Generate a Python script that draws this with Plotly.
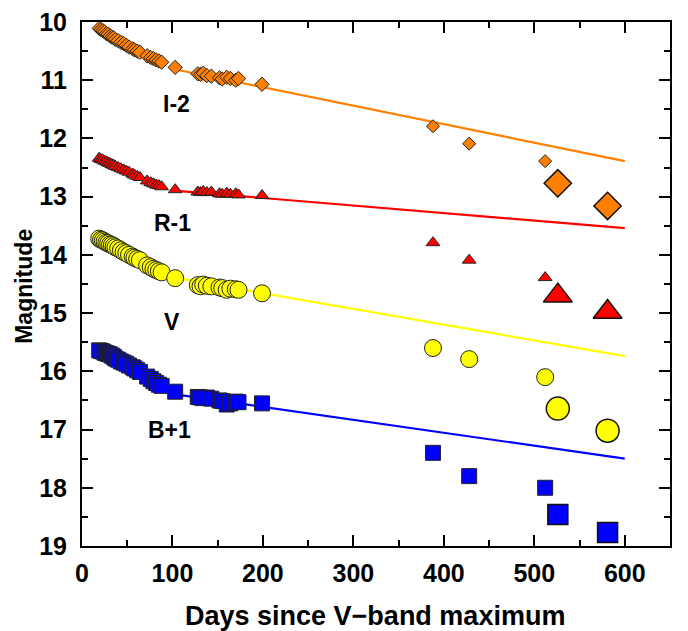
import plotly.graph_objects as go

# ---- data ----
days_early = [19, 21, 23, 25, 27, 29, 31, 33, 35, 37, 40, 43, 46, 49, 52, 56, 58, 61, 64,
              72, 76, 79, 82, 85, 88, 103, 128, 131, 134, 138, 143, 152, 155, 160, 164, 170, 173, 199]
I_early = [10.11, 10.13, 10.15, 10.17, 10.20, 10.21, 10.24, 10.26, 10.27, 10.30, 10.32, 10.35, 10.37,
           10.40, 10.43, 10.46, 10.48, 10.50, 10.52, 10.58, 10.61, 10.63, 10.65, 10.67, 10.69, 10.78,
           10.89, 10.90, 10.88, 10.92, 10.93, 10.96, 10.98, 10.95, 10.97, 11.00, 10.97, 11.07]
R_early = [12.34, 12.36, 12.37, 12.39, 12.40, 12.42, 12.43, 12.45, 12.46, 12.48, 12.50, 12.52, 12.54,
           12.56, 12.58, 12.61, 12.63, 12.65, 12.67, 12.73, 12.76, 12.78, 12.80, 12.81, 12.83, 12.88,
           12.92, 12.93, 12.91, 12.93, 12.92, 12.95, 12.96, 12.94, 12.96, 12.95, 12.97, 12.98]
V_early = [13.72, 13.74, 13.75, 13.77, 13.79, 13.80, 13.82, 13.83, 13.85, 13.87, 13.89, 13.92, 13.95,
           13.97, 14.00, 14.03, 14.05, 14.07, 14.09, 14.18, 14.21, 14.24, 14.26, 14.28, 14.30, 14.40,
           14.52, 14.54, 14.51, 14.53, 14.54, 14.56, 14.57, 14.60, 14.58, 14.59, 14.60, 14.66]
B_early = [15.64, 15.65, 15.66, 15.68, 15.69, 15.70, 15.71, 15.73, 15.75, 15.78, 15.80, 15.83, 15.85,
           15.87, 15.90, 15.93, 15.95, 15.98, 16.01, 16.09, 16.13, 16.17, 16.20, 16.23, 16.25, 16.35,
           16.44, 16.45, 16.46, 16.45, 16.47, 16.50, 16.51, 16.57, 16.55, 16.52, 16.53, 16.55]

days_late = [388, 428, 512]
I_late = [11.79, 12.09, 12.39]
R_late = [13.79, 14.09, 14.39]
V_late = [15.60, 15.79, 16.10]
B_late = [17.40, 17.80, 18.00]

days_neb = [526, 581]
I_neb = [12.77, 13.16]
R_neb = [14.70, 14.98]
V_neb = [16.64, 17.02]
B_neb = [18.46, 18.77]

fit_days = [105, 600]
I_fit = [10.82, 12.39]
R_fit = [12.90, 13.54]
V_fit = [14.40, 15.74]
B_fit = [16.40, 17.50]

band_labels = ["I-2", "R-1", "V", "B+1"]
label_days = [104, 100, 100, 97]
label_mags = [11.41, 13.45, 15.15, 17.0]

x_ticks = [0, 100, 200, 300, 400, 500, 600]
y_ticks = [10, 11, 12, 13, 14, 15, 16, 17, 18, 19]

# ---- styles ----
FONT = "Liberation Sans, Arial, sans-serif"
bands = [
    ("I", I_early, I_late, I_neb, I_fit, "#FF8000", "diamond", 11, 10, 21),
    ("R", R_early, R_late, R_neb, R_fit, "#FF0000", "triangle-up", 12, 12, 25),
    ("V", V_early, V_late, V_neb, V_fit, "#FFFF00", "circle", 17, 17, 23),
    ("B", B_early, B_late, B_neb, B_fit, "#0000FF", "square", 15, 15, 20),
]

fig = go.Figure()
edge = dict(color="#222222", width=1)

for name, e, l, n, f, col, sym, s_e, s_l, s_n in bands:
    fig.add_trace(go.Scatter(x=fit_days, y=f, mode="lines",
                             line=dict(color=col, width=2.2), showlegend=False))
for name, e, l, n, f, col, sym, s_e, s_l, s_n in bands:
    fig.add_trace(go.Scatter(x=days_early, y=e, mode="markers",
                             marker=dict(symbol=sym, size=s_e, color=col, line=edge),
                             showlegend=False))
    fig.add_trace(go.Scatter(x=days_late, y=l, mode="markers",
                             marker=dict(symbol=sym, size=s_l, color=col, line=edge),
                             showlegend=False))
    fig.add_trace(go.Scatter(x=days_neb, y=n, mode="markers",
                             marker=dict(symbol=sym, size=s_n, color=col, line=dict(color="#111111", width=1.5)),
                             showlegend=False))

for txt, xd, ym in zip(band_labels, label_days, label_mags):
    fig.add_annotation(x=xd, y=ym, text="<b>%s</b>" % txt, showarrow=False,
                       font=dict(family=FONT, size=23, color="black"))

# axis titles as paper annotations
fig.add_annotation(xref="paper", yref="paper", x=0.498, y=-0.134, xanchor="center", yanchor="middle",
                   text="<b>Days since V\u2212band maximum</b>", showarrow=False,
                   font=dict(family=FONT, size=27, color="black"))
fig.add_annotation(xref="paper", yref="paper", x=-0.100, y=0.495, xanchor="center", yanchor="middle",
                   text="<b>Magnitude</b>", textangle=-90, showarrow=False,
                   font=dict(family=FONT, size=23, color="black"))

axis_common = dict(
    showline=True, linecolor="black", linewidth=2, mirror="allticks",
    ticks="inside", ticklen=11, tickwidth=2, tickcolor="black",
    showgrid=False, zeroline=False, automargin=False, ticklabeloverflow="allow",
    tickfont=dict(family=FONT, size=25, color="black", weight="bold"),
)

fig.update_xaxes(range=[0, 650], tickvals=x_ticks, ticktext=[str(v) for v in x_ticks],
                 minor=dict(dtick=50, tick0=0, ticks="inside", ticklen=6, tickwidth=2, tickcolor="black"),
                 ticklabelstandoff=4, **axis_common)
fig.update_yaxes(range=[19, 10], tickvals=y_ticks, ticktext=[str(v) for v in y_ticks],
                 minor=dict(dtick=0.5, tick0=0, ticks="inside", ticklen=6, tickwidth=2, tickcolor="black"),
                 ticklabelstandoff=8, **axis_common)

# page body has an 8px margin, so the figure is made 8px smaller and margins shifted
fig.update_layout(width=680, height=623, margin=dict(l=74, r=18, t=14, b=85, autoexpand=False),
                  paper_bgcolor="white", plot_bgcolor="white", showlegend=False)

fig.write_html("out.html")
